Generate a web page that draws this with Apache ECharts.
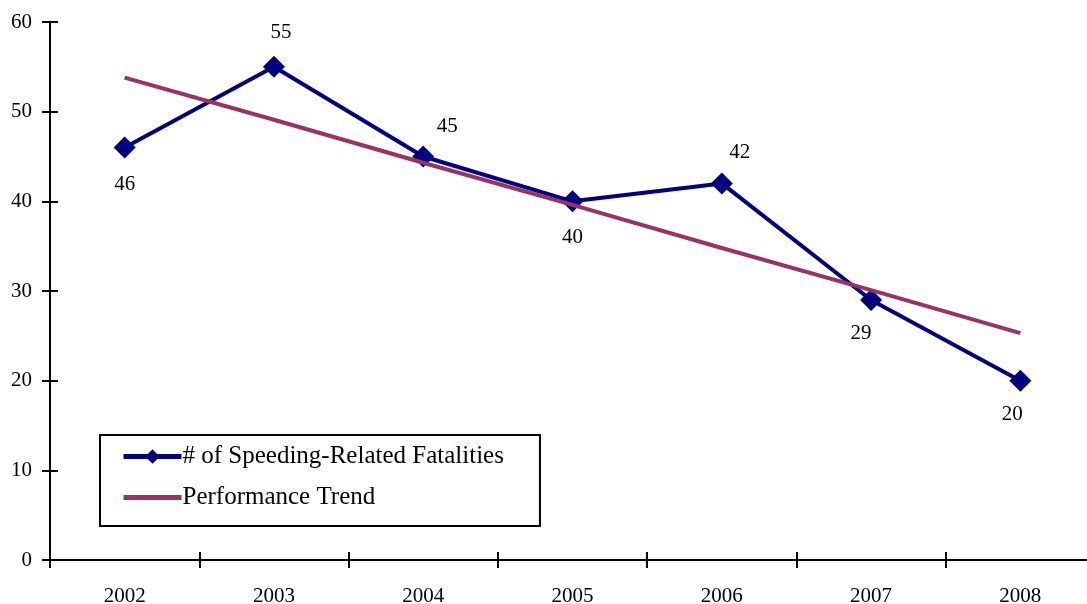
<!DOCTYPE html>
<html>
<head>
<meta charset="utf-8">
<script src="https://cdn.jsdelivr.net/npm/echarts@6/dist/echarts.min.js"></script>
<style>
html,body{margin:0;padding:0;background:#fff;}
#chart{width:1087px;height:604px;}
</style>
</head>
<body>
<div id="chart"></div>
<script>
const categories = ['2002','2003','2004','2005','2006','2007','2008'];
const fatalities = [46, 55, 45, 40, 42, 29, 20];
const trend = [53.8, 49.1, 44.3, 39.6, 34.8, 30.1, 25.3];
const yTicks = [0, 10, 20, 30, 40, 50, 60];
const seriesNames = ['# of Speeding-Related Fatalities', 'Performance Trend'];

const FONT = "'Liberation Serif', 'DejaVu Serif', serif";

const labelPos = [
  {position:'bottom', offset:[0, 10]},
  {position:'top', offset:[7, -8]},
  {position:'top', offset:[24, -4]},
  {position:'bottom', offset:[0, 10]},
  {position:'top', offset:[18, -4]},
  {position:'bottom', offset:[-10, 7]},
  {position:'bottom', offset:[-8, 7]}
];

const chart = echarts.init(document.getElementById('chart'), null, {renderer:'canvas'});
const axisLine = {show:true, lineStyle:{color:'#000', width:2}};
chart.setOption({
  animation:false,
  backgroundColor:'#fff',
  textStyle:{fontFamily:FONT},
  grid:{left:50, width:1045, top:22, height:538, containLabel:false, outerBoundsMode:'none'},
  legend:{
    orient:'vertical',
    left:100, top:435,
    padding:[9, 36, 16, 21],
    itemGap:16,
    itemWidth:58, itemHeight:18,
    borderColor:'#000', borderWidth:2,
    backgroundColor:'#fff',
    lineStyle:{width:5},
    textStyle:{fontFamily:FONT, fontSize:25, color:'#000', padding:[0,0,0,-4]},
    data:[
      {name:seriesNames[0]},
      {name:seriesNames[1], itemStyle:{color:'rgba(0,0,0,0)', borderWidth:0, opacity:0}}
    ]
  },
  xAxis:[{
    type:'category', data:categories, boundaryGap:true,
    axisLine:axisLine,
    axisTick:{show:true, length:8, lineStyle:{color:'#000', width:2}},
    axisLabel:{color:'#000', fontSize:21, fontFamily:FONT, margin:26},
    splitLine:{show:false}
  },{
    type:'category', data:categories, boundaryGap:true, position:'bottom',
    axisLine:{show:false},
    axisTick:{show:true, inside:true, length:8, lineStyle:{color:'#000', width:2}},
    axisLabel:{show:false}
  }],
  yAxis:[{
    type:'value', min:0, max:60, interval:10,
    axisLine:axisLine,
    axisTick:{show:true, length:8, lineStyle:{color:'#000', width:2}},
    axisLabel:{color:'#000', fontSize:21, fontFamily:FONT, margin:18,
      formatter:function(v){ return yTicks.indexOf(v) >= 0 ? String(v) : ''; }},
    splitLine:{show:false}
  },{
    type:'value', min:0, max:60, interval:10, position:'left',
    axisLine:{show:false},
    axisTick:{show:true, inside:true, length:8, lineStyle:{color:'#000', width:2}},
    axisLabel:{show:false}, splitLine:{show:false}
  }],
  series:[{
    name:seriesNames[0], type:'line',
    data:fatalities.map(function(v,i){
      return {value:v, label:{show:true, position:labelPos[i].position, offset:labelPos[i].offset}};
    }),
    symbol:'diamond', symbolSize:22,
    lineStyle:{color:'#000080', width:4},
    itemStyle:{color:'#000080'},
    label:{color:'#000', fontSize:21, fontFamily:FONT},
    z:2
  },{
    name:seriesNames[1], type:'line',
    data:trend,
    symbol:'none',
    lineStyle:{color:'#993366', width:4},
    itemStyle:{color:'#993366'},
    z:3
  }]
});
</script>
</body>
</html>
